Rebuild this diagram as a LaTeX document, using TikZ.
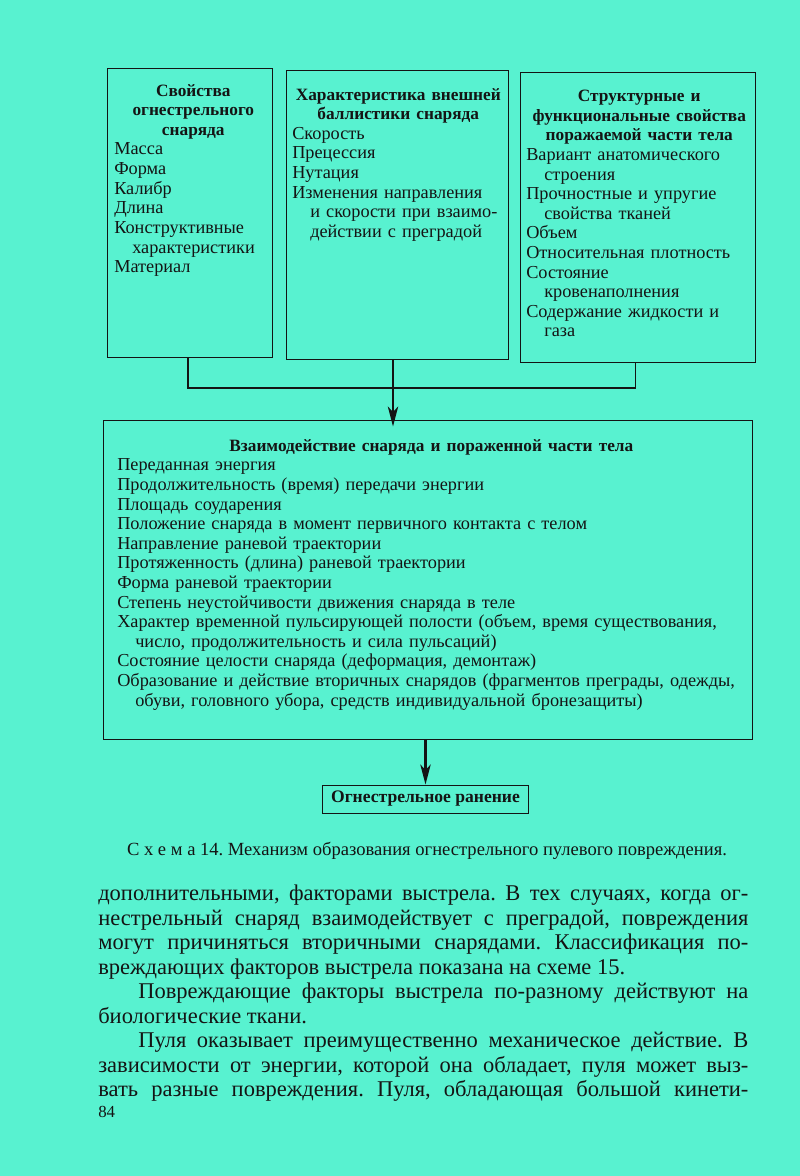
\documentclass[tikz,border=0pt]{standalone}
\usepackage{fontspec}
\setmainfont{Liberation Serif}
\usetikzlibrary{arrows.meta, positioning, calc}
\definecolor{pagegreen}{HTML}{58F2D0}
\definecolor{ink}{HTML}{141414}
\frenchspacing

% one list entry with a hanging second line
\newcommand{\entry}[1]{\par\hangindent=0.45cm\hangafter=1 #1}
\newcommand{\boxhead}[1]{{\centering\fontsize{12.3}{13.94}\selectfont\bfseries #1\par}}

\begin{document}
\begin{tikzpicture}[
  x=0.025cm, y=-0.025cm,
  >={Stealth[length=5mm, width=2.6mm, inset=1.4mm]},
  frame/.style={
    draw=ink, line width=0.7pt, minimum width=#1, inner sep=0pt
  },
  boxtext/.style={
    anchor=north west, inner sep=0pt, text=ink, text width=#1,
    font=\fontsize{13}{13.94}\selectfont, execute at begin node=\raggedright
  },
  conn/.style={draw=ink, line width=1pt},
  arrowline/.style={->, draw=ink, line width=1.5pt},
]

% Background page
\fill[pagegreen] (0,0) rectangle (800,1176);
\useasboundingbox (0,0) rectangle (800,1176);

% =============================================
% Top row: three source boxes
% =============================================
\node[frame=4.1cm, minimum height=7.2cm] (shell) at (190,213) {};
\node[boxtext=3.95cm] (shell-txt) at (114,84)
  {\boxhead{Свойства\\ огнестрельного\\ снаряда}
   \entry{Масса}
   \entry{Форма}
   \entry{Калибр}
   \entry{Длина}
   \entry{Конструктивные\newline характеристики}
   \entry{Материал}\par};

\node[frame=5.525cm, minimum height=7.2cm] (ballist) at (397.5,215) {};
\node[boxtext=5.3cm] (ballist-txt) at (292,88)
  {\boxhead{Характеристика внешней\\ баллистики снаряда}
   \entry{Скорость}
   \entry{Прецессия}
   \entry{Нутация}
   \entry{Изменения направления\newline и скорости при взаимо-\newline действии с преградой}\par};

\node[frame=5.85cm, minimum height=7.225cm] (body) at (638,217.5) {};
\node[boxtext=5.65cm] (body-txt) at (526,90)
  {\boxhead{Структурные и\\ функциональные свойства\\ поражаемой части тела}
   \entry{Вариант анатомического\newline строения}
   \entry{Прочностные и упругие\newline свойства тканей}
   \entry{Объем}
   \entry{Относительная плотность}
   \entry{Состояние\newline кровенаполнения}
   \entry{Содержание жидкости и\newline газа}\par};

% =============================================
% Interaction box
% =============================================
\node[frame=16.2cm, minimum height=7.95cm] (contact) at (428,580) {};
\node[boxtext=15.7cm] (contact-txt) at (117,439)
  {\boxhead{Взаимодействие снаряда и пораженной части тела}
   \entry{Переданная энергия}
   \entry{Продолжительность (время) передачи энергии}
   \entry{Площадь соударения}
   \entry{Положение снаряда в момент первичного контакта с телом}
   \entry{Направление раневой траектории}
   \entry{Протяженность (длина) раневой траектории}
   \entry{Форма раневой траектории}
   \entry{Степень неустойчивости движения снаряда в теле}
   \entry{Характер временной пульсирующей полости (объем, время существования,\newline число, продолжительность и сила пульсаций)}
   \entry{Состояние целости снаряда (деформация, демонтаж)}
   \entry{Образование и действие вторичных снарядов (фрагментов преграды, одежды,\newline обуви, головного убора, средств индивидуальной бронезащиты)}\par};

% Result
\node[frame=5.125cm, minimum height=0.7cm, text=ink,
      font=\fontsize{12.5}{13.94}\selectfont\bfseries]
  (wound) at (425.5,799) {Огнестрельное ранение};

% =============================================
% Connectors
% =============================================
\coordinate (bus) at (393,388);
\draw[conn] ([xshift=-0.05cm]shell.south) |- (bus) -| ([xshift=-0.07cm]body.south);
\draw[arrowline] (bus |- ballist.south) -- ([yshift=-0.15cm]bus |- contact.north);
\draw[arrowline] (wound.north |- contact.south) -- (wound.north);

% =============================================
% Caption and page text
% =============================================
\node[text=ink, font=\fontsize{13.2}{15}\selectfont] (caption) at (427,851)
  {С х е м а 14. Механизм образования огнестрельного пулевого повреждения.};

\node[anchor=north west, inner sep=0pt, text=ink, text width=16.25cm, align=justify,
      font=\fontsize{16}{17.4}\selectfont] (page-txt) at (98,885)
  {\tolerance=9999\hyphenpenalty=10000
   дополнительными, факторами выстрела. В тех случаях, когда ог-\linebreak
   нестрельный снаряд взаимодействует с преградой, повреждения\linebreak
   могут причиняться вторичными снарядами. Классификация по-\linebreak
   вреждающих факторов выстрела показана на схеме 15.\par
   \hspace*{1cm}Повреждающие факторы выстрела по-разному действуют на\linebreak
   биологические ткани.\par
   \hspace*{1cm}Пуля оказывает преимущественно механическое действие. В\linebreak
   зависимости от энергии, которой она обладает, пуля может выз-\linebreak
   вать разные повреждения. Пуля, обладающая большой кинети-{\parfillskip=0pt\par}};

\node[anchor=west, inner sep=0pt, text=ink, font=\fontsize{12}{14}\selectfont]
  (folio) at (98,1112) {84};

\end{tikzpicture}
\end{document}
